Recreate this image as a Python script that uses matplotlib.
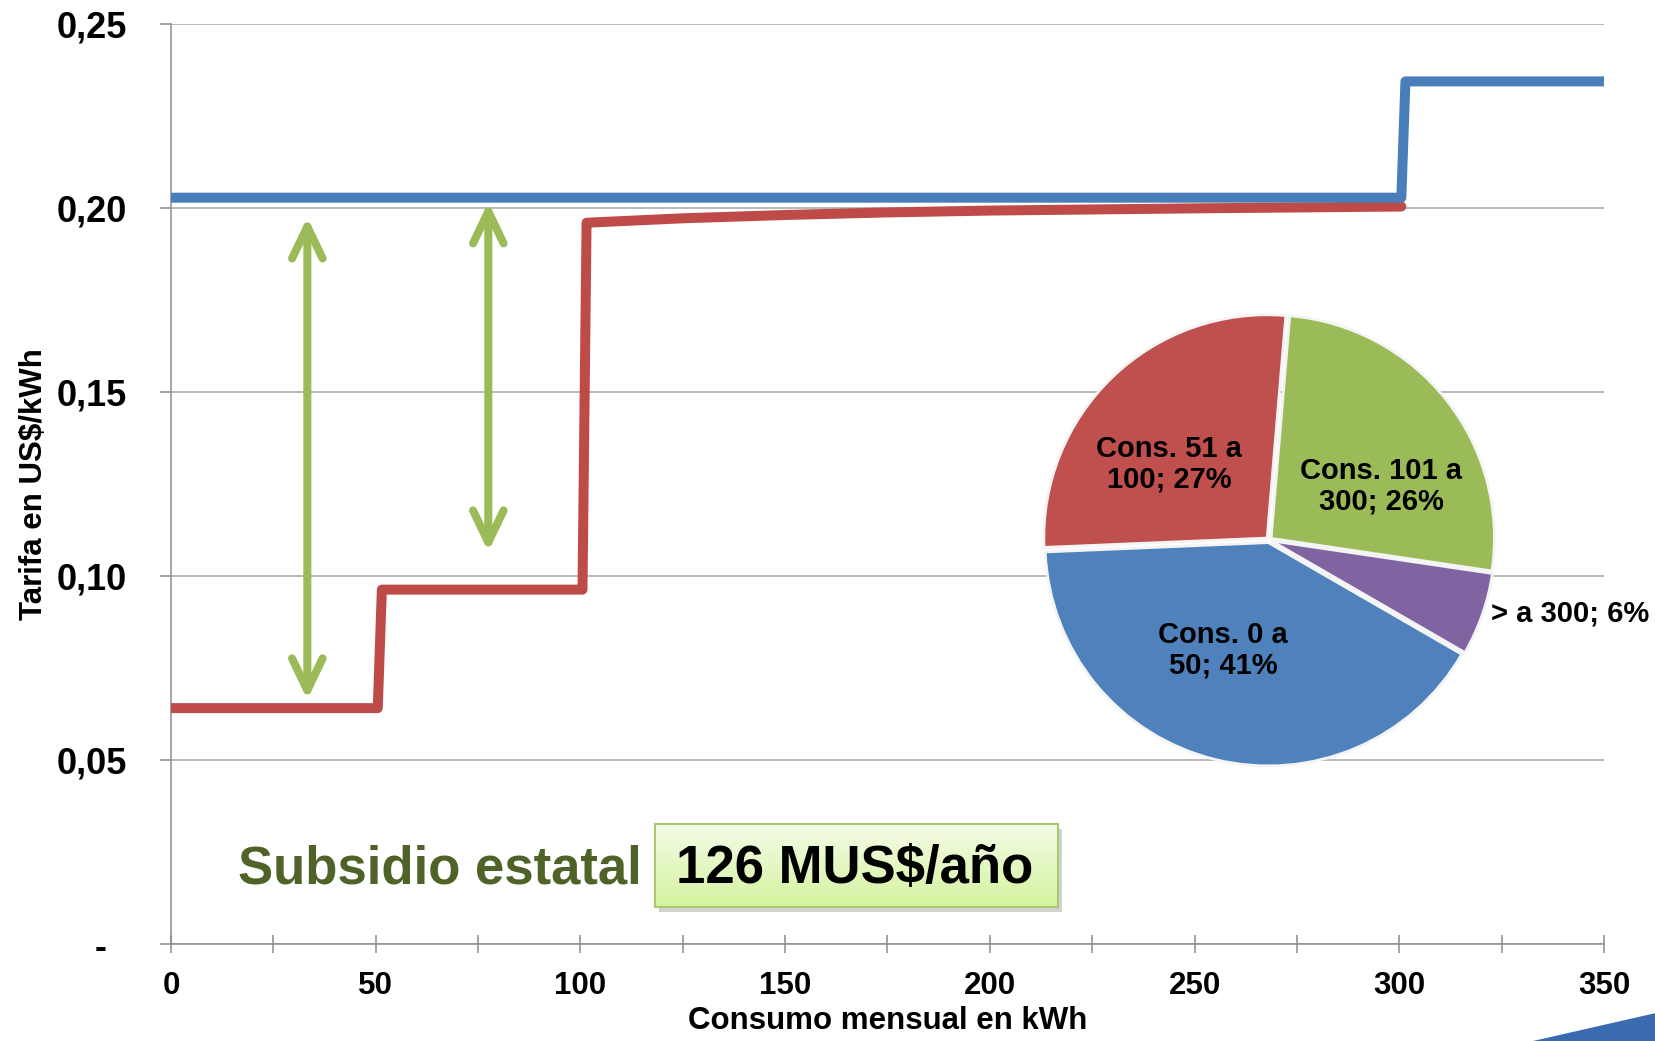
import numpy as np
import matplotlib
matplotlib.use("Agg")
import matplotlib.pyplot as plt
from matplotlib.ticker import MultipleLocator
from matplotlib.patches import Polygon, Rectangle
from matplotlib.colors import LinearSegmentedColormap

plt.rcParams['font.family'] = ['Liberation Sans', 'DejaVu Sans']
plt.rcParams['font.weight'] = 'bold'
plt.rcParams['axes.labelweight'] = 'bold'

# tarifa sin subsidio (azul) y tarifa con subsidio (rojo), US$/kWh
blue_x = [0, 300.5, 301.5, 350]
blue_y = [0.2028, 0.2028, 0.2344, 0.2344]
red_x = [0, 50.5, 51.5, 100.5, 101.5, 125, 150, 175, 200, 250, 300.5]
red_y = [0.0641, 0.0641, 0.0963, 0.0963, 0.1960, 0.1972, 0.1981, 0.1988,
         0.1993, 0.1999, 0.2004]

# flechas verdes (diferencia = subsidio)
arrow_x = [33.3, 77.5]
arrow_top = [0.1975, 0.2016]
arrow_bottom = [0.0664, 0.1066]

x_ticks = [0, 50, 100, 150, 200, 250, 300, 350]
y_ticks = [0, 0.05, 0.10, 0.15, 0.20, 0.25]
y_labels = ['-  ', '0,05', '0,10', '0,15', '0,20', '0,25']

# torta: distribucion por tramo de consumo
pie_values = [41, 27, 26, 6]
pie_labels = ['Cons. 0 a\n50; 41%', 'Cons. 51 a\n100; 27%',
              'Cons. 101 a\n300; 26%', '> a 300; 6%']
pie_colors = ['#4F81BD', '#C0504D', '#9BBB59', '#8064A2']
pie_label_xy = [(-0.206, -0.493), (-0.448, 0.340), (0.502, 0.242), (0.994, -0.329)]
pie_label_ha = ['center', 'center', 'center', 'left']

W, H = 1656, 1041


def fx(px):
    return px / W


def fy(py):
    return 1 - py / H


fig = plt.figure(figsize=(W / 100, H / 100), dpi=100)

ax = fig.add_axes([fx(171), fy(944), 1433 / W, 920 / H])
ax.set_facecolor('none')
ax.set_xlim(0, 350)
ax.set_ylim(0, 0.25)

ax.plot(red_x, red_y, color='#BE4B48', lw=7.2, solid_capstyle='round',
        solid_joinstyle='round', zorder=3)
ax.plot(blue_x, blue_y, color='#4A7EBB', lw=7.2, solid_capstyle='round',
        solid_joinstyle='round', zorder=4)

for xa, yt, yb in zip(arrow_x, arrow_top, arrow_bottom):
    ax.annotate('', xy=(xa, yt), xytext=(xa, yb),
                arrowprops=dict(arrowstyle='<->,head_length=2.3,head_width=1.1',
                                color='#9BBB59', lw=5.8, shrinkA=0, shrinkB=0,
                                capstyle='round', joinstyle='round'),
                zorder=5)

ax.set_yticks(y_ticks)
ax.set_yticklabels(y_labels)
ax.set_xticks(x_ticks)
ax.xaxis.set_minor_locator(MultipleLocator(25))
ax.tick_params(axis='y', direction='out', length=8, width=1.1, color='#8C8C8C',
               pad=24, labelsize=26)
ax.tick_params(axis='x', which='both', direction='inout', length=13, width=1.1,
               color='#8C8C8C', pad=13, labelsize=22.5)
ax.yaxis.grid(True, color='#A6A6A6', lw=1.1)
ax.set_axisbelow(True)
for s in ['top', 'right']:
    ax.spines[s].set_visible(False)
for s in ['left', 'bottom']:
    ax.spines[s].set_color('#8C8C8C')
    ax.spines[s].set_linewidth(1.1)

ax.set_ylabel(r'Tarifa en US\$/kWh', fontsize=22.5, fontweight='bold')
ax.yaxis.set_label_coords(-0.085, 0.5)
ax.set_xlabel('Consumo mensual en kWh', fontsize=22.5, fontweight='bold')
ax.xaxis.set_label_coords(0.5, -0.067)

# torta
ax_pie = fig.add_axes([fx(1039), fy(770), 460 / W, 460 / H])
ax_pie.pie(pie_values, colors=pie_colors, startangle=-30, counterclock=False,
           explode=[0.012] * 4, wedgeprops=dict(edgecolor='#F4F4F4', linewidth=2))
ax_pie.set_xlim(-1.03, 1.03)
ax_pie.set_ylim(-1.03, 1.03)
ax_pie.set_aspect('equal')
ax_pie.axis('off')
for lab, (lx, ly), ha in zip(pie_labels, pie_label_xy, pie_label_ha):
    ax_pie.text(lx, ly, lab, fontsize=21, ha=ha, va='center', linespacing=1.1,
                clip_on=False)

# recuadro de subsidio
fig.text(fx(237.6), fy(883), 'Subsidio estatal', fontsize=38, color='#4F6228',
         ha='left', va='baseline')
shadow = Rectangle((fx(659), fy(912)), 403 / W, 83 / H, transform=fig.transFigure,
                   facecolor='#7F7F7F', alpha=0.35, edgecolor='none', zorder=1.5)
fig.patches.append(shadow)
ax_box = fig.add_axes([fx(655), fy(907), 403 / W, 83 / H], zorder=2)
grad = np.linspace(0, 1, 100).reshape(-1, 1)
cmap = LinearSegmentedColormap.from_list('verde', ['#F4FCE8', '#D4F39E'])
ax_box.imshow(grad, cmap=cmap, aspect='auto', extent=[0, 1, 0, 1], origin='upper')
ax_box.set_xticks([])
ax_box.set_yticks([])
for s in ax_box.spines.values():
    s.set_color('#A9C96B')
    s.set_linewidth(1.5)
fig.text(fx(855), fy(883), '126 MUS$/año', fontsize=38, color='black',
         ha='center', va='baseline', zorder=3)

# decoracion azul esquina
tri = Polygon([(fx(1533), fy(1041)), (fx(1656), fy(1013)), (fx(1656), fy(1041))],
              closed=True, transform=fig.transFigure, facecolor='#3A6AB0',
              edgecolor='none')
fig.patches.append(tri)

fig.savefig('out.png', dpi=100)
